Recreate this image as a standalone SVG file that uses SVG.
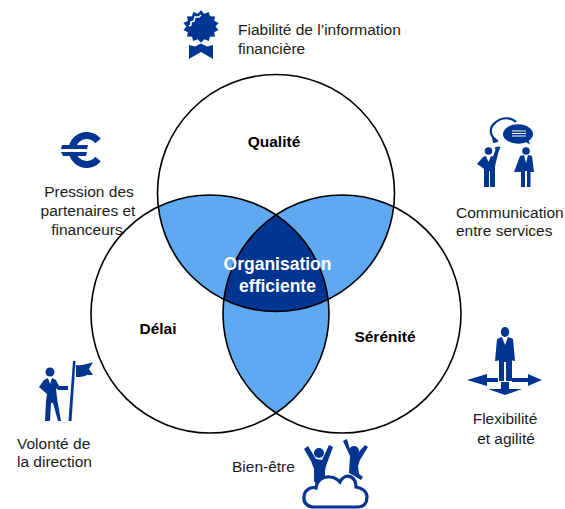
<svg xmlns="http://www.w3.org/2000/svg" width="565" height="509" viewBox="0 0 565 509">
<style>
text{font-family:"Liberation Sans",Arial,sans-serif;font-size:15.500px;fill:#1a1a1a}
.c{text-anchor:middle}
.b{font-weight:bold;fill:#000}
.w{font-weight:bold;fill:#fff;font-size:17.500px;text-anchor:middle}
.i{fill:#003591;stroke:none}
.o{fill:none;stroke:#000;stroke-width:1.6}
.l{fill:#5fa8f2}
.d{fill:#003591}
</style>
<defs>
<clipPath id="cq"><circle cx="276" cy="193" r="118.5"/></clipPath>
<clipPath id="cd"><circle cx="210" cy="314" r="119"/></clipPath>
</defs>
<g id="regions">
<g clip-path="url(#cq)"><circle cx="210" cy="314" r="119" class="l"/><circle cx="342" cy="314" r="119" class="l"/></g>
<g clip-path="url(#cd)"><circle cx="342" cy="314" r="119" class="l"/></g>
<g clip-path="url(#cq)"><g clip-path="url(#cd)"><circle cx="342" cy="314" r="119" class="d"/></g></g>
</g>
<g id="connectors">
<circle cx="276" cy="193" r="118.500" class="o"/>
<circle cx="210" cy="314" r="119" class="o"/>
<circle cx="342" cy="314" r="119" class="o"/>
</g>
<g id="labels">
<text x="274" y="147" class="b c">Qualité</text>
<text x="158" y="334" class="b c">Délai</text>
<text x="385" y="342" class="b c">Sérénité</text>
<text x="277.500" y="270" class="w">Organisation</text>
<text x="277.500" y="292" class="w">efficiente</text>
</g>
<g id="n-fiabilite">
<polygon class="i" transform="translate(201 26.500) scale(1 .9)" points="0,-18 3.200,-14.100 7.800,-16.200 9,-11.300 14.100,-11.200 13.100,-6.300 17.600,-4 14.500,0 17.600,4 13.100,6.300 14.100,11.200 9,11.300 7.800,16.200 3.200,14.100 0,18 -3.200,14.100 -7.800,16.200 -9,11.300 -14.100,11.200 -13.100,6.300 -17.600,4 -14.500,0 -17.600,-4 -13.100,-6.300 -14.100,-11.200 -9,-11.300 -7.800,-16.200 -3.200,-14.100"/>
<path d="M189 26l2-1 0-3 3-1 1-4 4 0 2-2" fill="none" stroke="#fff" stroke-width="1.500"/>
<path class="i" d="M189 45l6 1.500 6-3 6 3 6-1.500V59l-12-7-12 7Z"/>
<text x="238" y="35">Fiabilité de l’information</text>
<text x="238" y="54">financière</text>
</g>
<g id="n-pression">
<path d="M98 141A14.500 14.500 0 1 0 98 159" fill="none" stroke="#003591" stroke-width="7"/>
<path class="i" d="M62 145h26l-1 4H61ZM61 152h26l-1 4H63Z"/>
<path d="M60 150.500h28" stroke="#fff" stroke-width="3"/>
<text x="89" y="197" class="c">Pression des</text>
<text x="88" y="216" class="c">partenaires et</text>
<text x="87" y="235" class="c">financeurs</text>
</g>
<g id="n-communication">
<path d="M496 140c-7-5-7-13 0-18 6-5 15-5 20 0M493 142l5-1" fill="#fff" stroke="#003591" stroke-width="2.200"/>
<path class="i" d="M492 137l6 3-5 3Z"/>
<ellipse cx="518" cy="134" rx="15" ry="9.700" class="i"/>
<path class="i" d="M524 141l6 3.500-2-6Z"/>
<path d="M512 131h14M512 133.500h14M512 136h14" stroke="#fff" stroke-width="1"/>
<circle class="i" cx="488.500" cy="151" r="3.800"/>
<path class="i" d="M483 157l3-1 2.500 6 2.500-6 2 .5 2.500-7-1-2 4-1 2 .5-2 5-3 12-.5 3V187H490V171h-1V187H484V169l-4-3-3-2Z"/>
<circle class="i" cx="526" cy="151" r="3.800"/>
<path class="i" d="M520 156l4-1 2 8 2-8 4 1 2 16-3.500 0V187H527V171h-2V187H521V172l-7 0Z"/>
<text x="456" y="218">Communication</text>
<text x="456" y="236">entre services</text>
</g>
<g id="n-flexibilite">
<ellipse class="i" cx="505" cy="332" rx="4.200" ry="5"/>
<path class="i" d="M497 339l5-2 3 8 3-8 5 2 2 22-3-.5V381H506V362h-2V381H499V360.500l-4 .5Z"/>
<path class="i" d="M467 380l20-6v4h11v4h-11v4ZM542 380l-14-6v4h-16v4h16v4ZM488 389h13v-7h8v7h13l-17 6Z"/>
<text x="505" y="424" class="c">Flexibilité</text>
<text x="506" y="444" class="c">et agilité</text>
</g>
<g id="n-volonte">
<circle class="i" cx="50" cy="372" r="4.500"/>
<path class="i" d="M44 380l4-2 2 6 2-6 4 2 3 6 9 0 0 4-10 0 -2-2 1 10 4 23H58l-5-18-2 0-1 18h-5l1-20 1-7-8-7Z"/>
<path class="i" d="M73 361h2.500l-4 60h-3Z"/>
<path class="i" d="M76 365c5 1 11-1 17-3l-4 7 4 6-6 0c-4 2-7 2-11 2Z"/>
<text x="17" y="449">Volonté de</text>
<text x="17" y="467">la direction</text>
</g>
<g id="n-bienetre">
<text x="232" y="472">Bien-être</text>
<g class="i">
<circle cx="319" cy="453" r="5"/><circle cx="354" cy="451" r="5"/>
<path d="M304 449l4-3 8 13 6 1 7-15 4 2-7 19-1 5 0 9-9 4-2-3 0-12-3-8ZM343 441l4-2 4 14 6 1 8-9 3 2-8 13-2 6 1 8 4 3-2 3-12-7 1-17Z"/>
</g>
<path d="M314 507c-6 0-11-4-10-10 0-6 6-11 12-9 1-8 7-12 14-11 4 0 7 2 10 5 2-5 7-7 11-5 4 2 5 6 5 10 5 1 11 4 11 10 0 6-3 10-9 10Z" fill="#fff" stroke="#003591" stroke-width="3.200"/>
</g>
</svg>
